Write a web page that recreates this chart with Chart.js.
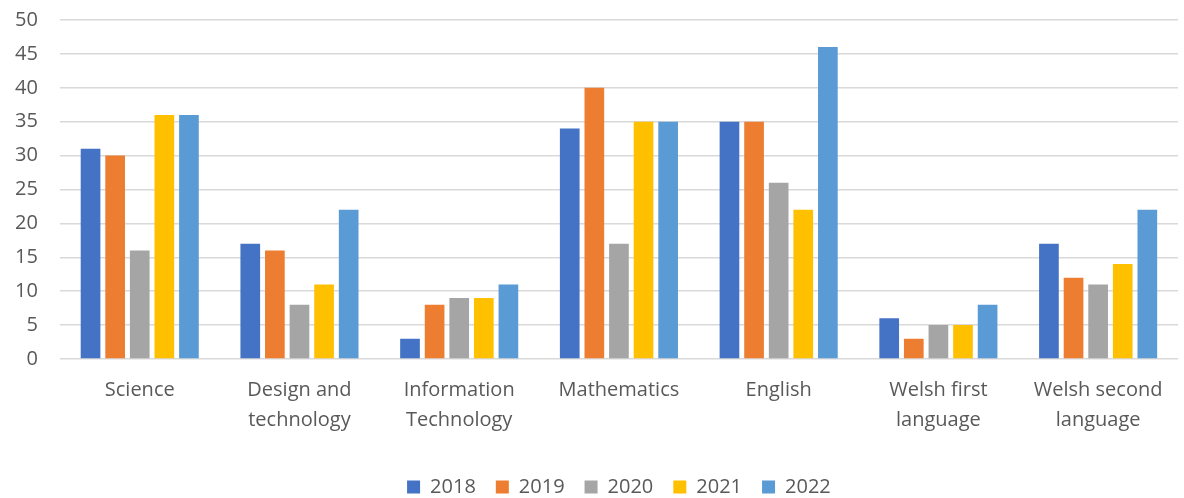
<!DOCTYPE html>
<html>
<head>
<meta charset="utf-8">
<title>Subjects by year</title>
<script src="https://cdn.jsdelivr.net/npm/chart.js@4/dist/chart.umd.min.js"></script>
<style>
  html, body { margin: 0; padding: 0; background: #fff; }
  #wrap { width: 1184px; height: 498px; overflow: hidden; }
  #subjectChart { display: block; margin-top: -14px; }
</style>
</head>
<body>
<div id="wrap"><canvas id="subjectChart" width="1184" height="512"></canvas></div>
<script>
// Categories and series
const subjects = [
    'Science',
    ['Design and', 'technology'],
    ['Information', 'Technology'],
    'Mathematics',
    'English',
    ['Welsh first', 'language'],
    ['Welsh second', 'language']
];
const years = ['2018', '2019', '2020', '2021', '2022'];
const values2018 = [31, 17, 3, 34, 35, 6, 17];
const values2019 = [30, 16, 8, 40, 35, 3, 12];
const values2020 = [16, 8, 9, 17, 26, 5, 11];
const values2021 = [36, 11, 9, 35, 22, 5, 14];
const values2022 = [36, 22, 11, 35, 46, 8, 22];
const yearColours = ['#4472C4', '#ED7D31', '#A5A5A5', '#FFC000', '#5B9BD5'];

const seriesValues = [values2018, values2019, values2020, values2021, values2022];
const textColour = '#595959';
const fontFamily = '"Open Sans", sans-serif';

const ctx = document.getElementById('subjectChart').getContext('2d');
const subjectChart = new Chart(ctx, {
    type: 'bar',
    data: {
        labels: subjects,
        datasets: years.map((year, i) => ({
            label: year,
            data: seriesValues[i],
            backgroundColor: yearColours[i],
            categoryPercentage: 0.77,
            barPercentage: 0.8
        }))
    },
    options: {
        responsive: false,
        animation: false,
        layout: { padding: { top: 0, right: 6, left: -7, bottom: -9 } },
        plugins: {
            tooltip: { enabled: false },
            legend: {
                position: 'bottom',
                fullSize: false,
                labels: {
                    boxWidth: 13,
                    boxHeight: 13,
                    padding: 20,
                    color: textColour,
                    font: { family: fontFamily, size: 20 }
                }
            }
        },
        scales: {
            x: {
                grid: { display: false },
                border: { display: false },
                ticks: {
                    color: textColour,
                    font: { family: fontFamily, size: 20, lineHeight: 1.5 },
                    maxRotation: 0,
                    autoSkip: false,
                    padding: 8
                },
                // leave a gap between the two-line labels and the legend
                afterFit(scale) {
                    scale.height += 14;
                }
            },
            y: {
                min: 0,
                max: 50,
                grid: { color: '#D9D9D9', lineWidth: 1.5, drawTicks: false },
                border: { display: false },
                ticks: {
                    stepSize: 5,
                    color: textColour,
                    font: { family: fontFamily, size: 20 },
                    padding: 22
                }
            }
        }
    }
});
</script>
</body>
</html>
